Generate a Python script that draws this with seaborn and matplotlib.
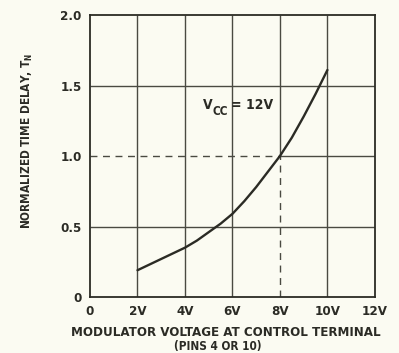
import matplotlib
matplotlib.use("Agg")
import matplotlib.pyplot as plt
import seaborn as sns
import pandas as pd

# Normalized time delay vs. modulator voltage (Vcc = 12 V)
voltage = [2, 2.5, 3, 3.5, 4, 4.5, 5, 5.5, 6, 6.5, 7, 7.5, 8, 8.5, 9, 9.5, 10]
delay = [0.19, 0.23, 0.27, 0.31, 0.35, 0.40, 0.46, 0.52, 0.59, 0.68,
         0.78, 0.89, 1.00, 1.13, 1.28, 1.44, 1.61]

x_ticks = [0, 2, 4, 6, 8, 10, 12]
x_tick_labels = ["0", "2V", "4V", "6V", "8V", "10V", "12V"]
y_ticks = [0, 0.5, 1.0, 1.5, 2.0]
y_tick_labels = ["0", "0.5", "1.0", "1.5", "2.0"]

ref_v, ref_t = 8, 1.0

sns.set_theme(style="white")
plt.rcParams["font.family"] = ["DejaVu Sans"]
plt.rcParams["font.stretch"] = "condensed"
plt.rcParams["font.weight"] = "bold"

bg = "#fbfbf2"
ink = "#2b2b25"
grid_c = "#4a4a42"

fig = plt.figure(figsize=(3.99, 3.53), dpi=100, facecolor=bg)
ax = fig.add_axes([0.2256, 0.1586, 0.714, 0.7989], facecolor=bg)

df = pd.DataFrame({"v": voltage, "t": delay})

# grid
for x in x_ticks[1:-1]:
    if x == ref_v:
        ax.vlines(x, 0, ref_t, color=grid_c, lw=1.0, linestyles=(0, (5, 4)))
        ax.vlines(x, ref_t, 2.0, color=grid_c, lw=1.0)
    else:
        ax.vlines(x, 0, 2.0, color=grid_c, lw=1.0)
for y in y_ticks[1:-1]:
    if y == ref_t:
        ax.hlines(y, 0, ref_v, color=grid_c, lw=1.0, linestyles=(0, (5, 4)))
        ax.hlines(y, ref_v, 12, color=grid_c, lw=1.0)
    else:
        ax.hlines(y, 0, 12, color=grid_c, lw=1.0)

sns.lineplot(data=df, x="v", y="t", ax=ax, color=ink, lw=1.7)

ax.set_xlim(0, 12)
ax.set_ylim(0, 2.0)
ax.set_xticks(x_ticks)
ax.set_xticklabels(x_tick_labels)
ax.set_yticks(y_ticks)
ax.set_yticklabels(y_tick_labels)
ax.tick_params(length=0, labelsize=9.5, colors=ink, pad=6)
for lab in ax.get_xticklabels() + ax.get_yticklabels():
    lab.set_fontweight("bold")
    lab.set_fontstretch("condensed")

for s in ax.spines.values():
    s.set_color(ink)
    s.set_linewidth(1.3)

ax.set_xlabel("")
ax.set_ylabel("")

fig.text(0.566, 0.057, "MODULATOR VOLTAGE AT CONTROL TERMINAL", ha="center",
         va="center", fontsize=9.5, color=ink, fontweight="bold",
         fontstretch="condensed")
fig.text(0.546, 0.017, "(PINS 4 OR 10)", ha="center", va="center",
         fontsize=8.5, color=ink, fontweight="bold", fontstretch="condensed")

fig.text(0.068, 0.6, r"NORMALIZED TIME DELAY, $\mathregular{T_N}$", rotation=90,
         ha="center", va="center", fontsize=8.5, color=ink, fontweight="bold",
         fontstretch="condensed")

# supply voltage annotation
ax.text(4.75, 1.33, "V", fontsize=10, color=ink, fontweight="bold",
        fontstretch="condensed", va="baseline")
ax.text(5.17, 1.29, "CC", fontsize=8.5, color=ink, fontweight="bold",
        fontstretch="condensed", va="baseline")
ax.text(5.95, 1.33, "= 12V", fontsize=10, color=ink, fontweight="bold",
        fontstretch="condensed", va="baseline")

fig.savefig("out.png", dpi=100, facecolor=bg)
